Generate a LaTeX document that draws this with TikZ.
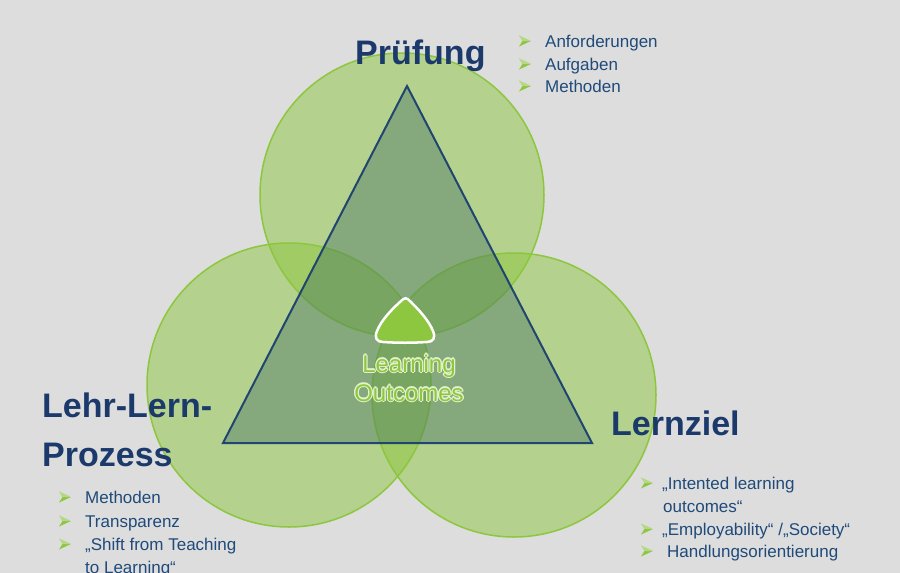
\documentclass[tikz,border=0pt]{standalone}
\usepackage{fontspec}
\setmainfont{Liberation Sans}
\definecolor{bg}{HTML}{DDDDDD}
\definecolor{cgreen}{HTML}{8DC63F}
\definecolor{trifill}{HTML}{2F5F5F}
\definecolor{triline}{HTML}{1F4570}
\definecolor{headblue}{HTML}{1B3A6B}
\definecolor{listblue}{HTML}{1F4A7A}
\definecolor{glow}{HTML}{E4F2CC}
\newcommand{\gcopy}[3]{\makebox[0pt][l]{\hspace*{#1}\raisebox{#2}{\color{glow}#3}}}
\newcommand{\glowtext}[1]{\leavevmode
  \gcopy{1.2pt}{0pt}{#1}\gcopy{-1.2pt}{0pt}{#1}\gcopy{0pt}{1.2pt}{#1}\gcopy{0pt}{-1.2pt}{#1}%
  \gcopy{0.85pt}{0.85pt}{#1}\gcopy{-0.85pt}{0.85pt}{#1}\gcopy{0.85pt}{-0.85pt}{#1}\gcopy{-0.85pt}{-0.85pt}{#1}%
  {\color{cgreen}#1}}
\begin{document}
\begin{tikzpicture}[x=1pt,y=-1pt,
  circ/.style={fill=cgreen,fill opacity=0.5,draw=cgreen,draw opacity=1,line width=1.5pt},
  heading/.style={anchor=base west,inner sep=0pt,text=headblue,font=\fontsize{34}{38}\selectfont\bfseries},
  listitem/.style={anchor=base west,inner sep=0pt,text=listblue,font=\fontsize{17}{20}\selectfont},
  lo/.style={anchor=base,inner sep=0pt,font=\fontsize{24}{28}\selectfont}
]
\useasboundingbox (0,0) rectangle (900,573);
\fill[bg] (0,0) rectangle (900,573);
% circles
\path[circ] (402,195) circle[radius=142];
\path[circ] (289,385) circle[radius=142];
\path[circ] (514,395) circle[radius=142];
% triangle
\node[coordinate] (ta) at (407,86) {};
\node[coordinate] (tb) at (223,443) {};
\node[coordinate] (tc) at (592,443) {};
\draw[fill=trifill,fill opacity=0.35,draw=triline,draw opacity=1,line width=2pt,line join=miter] (ta) -- (tb) -- (tc) -- cycle;
% inner rounded triangle
\draw[fill=cgreen,draw=white,line width=2.5pt]
  (400,302) .. controls (405,297) and (406,297) .. (411,302)
  .. controls (420,311) and (429,321) .. (433,331)
  .. controls (436,338) and (433,342) .. (427,342)
  .. controls (412,343) and (398,343) .. (383,342)
  .. controls (377,342) and (374,338) .. (377,331)
  .. controls (381,321) and (390,311) .. (400,302) -- cycle;
% Learning Outcomes with glow
\node[lo] (lo1) at (409,372) {\glowtext{Learning}};
\node[lo] (lo2) at (409,401) {\glowtext{Outcomes}};
% headings
\node[heading] (pr) at (355,64) {Prüfung};
\node[heading] (ll1) at (42,417) {Lehr-Lern-};
\node[heading] (ll2) at (42,466) {Prozess};
\node[heading] (lz) at (611,435) {Lernziel};
% bullets
\newcommand{\bul}[2]{%
  \fill[cgreen] (#1,#2-5.5) -- (#1+12,#2) -- (#1,#2+5.5) -- (#1+3.5,#2) -- cycle;
  \fill[white,opacity=0.35] (#1,#2-5.5) -- (#1+12,#2) -- (#1+3.5,#2) -- cycle;
}
% top list
\bul{519}{41}\node[listitem] (t1) at (545,47) {Anforderungen};
\bul{519}{64}\node[listitem] (t2) at (545,70) {Aufgaben};
\bul{519}{86}\node[listitem] (t3) at (545,92) {Methoden};
% bottom-left list
\bul{59}{497}\node[listitem] (l1) at (85,503) {Methoden};
\bul{59}{521}\node[listitem] (l2) at (85,527) {Transparenz};
\bul{59}{544}\node[listitem] (l3) at (85,550) {„Shift from Teaching};
\node[listitem] (l4) at (85,573) {to Learning“};
% bottom-right list
\bul{641}{483}\node[listitem] (r1) at (662,489) {„Intented learning};
\node[listitem] (r2) at (663,512) {outcomes“};
\bul{641}{529}\node[listitem] (r3) at (662,535) {„Employability“ /„Society“};
\bul{641}{551}\node[listitem] (r4) at (667,557) {Handlungsorientierung};
\end{tikzpicture}
\end{document}
